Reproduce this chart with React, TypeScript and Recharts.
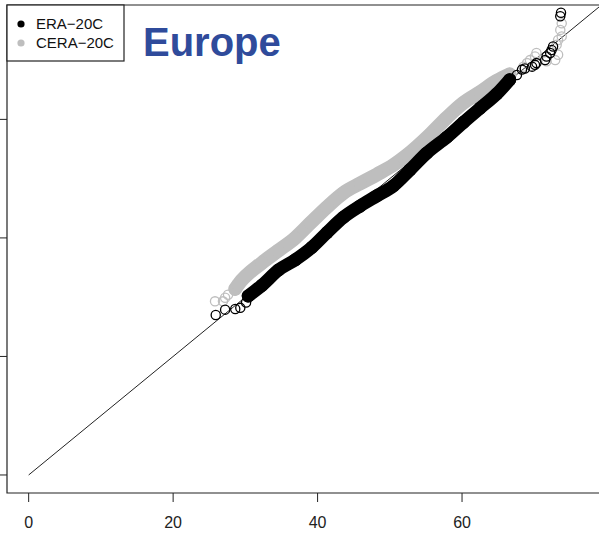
import React from 'react';
import { ScatterChart, Scatter, XAxis, YAxis, ReferenceArea, ReferenceLine } from 'recharts';

// quantile pairs: [x, y]
const eraLow = [[25.9, 27.0], [27.2, 27.9], [28.6, 28.0], [29.3, 28.2], [30.1, 29.1]];
const eraBody = [
  [30.4, 30.2], [32.3, 32.0], [34.6, 34.6], [36.9, 36.3], [39.2, 38.4], [41.3, 40.9],
  [43.6, 43.5], [45.9, 45.4], [48.2, 47.1], [50.5, 48.8], [52.8, 51.5], [55.1, 54.3],
  [57.9, 57.0], [60.2, 59.5], [62.5, 61.9], [64.8, 64.3], [66.6, 66.7],
];
const eraHigh = [
  [67.6, 67.5], [68.3, 68.4], [68.7, 68.6], [69.7, 68.9], [70.1, 69.2], [70.3, 69.5],
  [71.5, 70.0], [71.7, 70.6], [72.2, 71.2], [72.4, 71.7], [72.6, 72.3], [73.6, 77.4], [73.7, 78.0],
];

const ceraLow = [[25.8, 29.3], [26.9, 29.3], [27.2, 29.9], [27.6, 30.4]];
const ceraBody = [
  [28.6, 31.4], [29.0, 32.1], [32.3, 35.8], [34.5, 37.8], [36.9, 40.0], [39.0, 42.5],
  [41.3, 45.2], [43.6, 47.6], [45.9, 49.2], [48.2, 50.7], [50.5, 52.3], [52.4, 54.0],
  [55.6, 57.5], [57.9, 60.3], [60.2, 62.8], [62.5, 64.6], [64.8, 66.5], [66.6, 67.6],
];
const ceraHigh = [
  [68.5, 68.9], [69.0, 69.5], [69.4, 70.0], [70.1, 70.6], [70.3, 71.2], [71.7, 69.8],
  [72.9, 70.0], [73.3, 70.9], [73.1, 72.6], [73.3, 73.4], [73.8, 74.0], [73.6, 75.1], [73.8, 76.2],
];

const xTicks = [0, 20, 40, 60];
const yTicks = [0, 20, 40, 60];

const legendItems = [
  { name: 'ERA\u221220C', color: '#000000' },
  { name: 'CERA\u221220C', color: '#bebebe' },
];

const toPts = (arr: number[][]) => arr.map(([x, y]) => ({ x, y }));

const ring = (color: string) => (props: any) => (
  <circle cx={props.cx} cy={props.cy} r={4.6} fill="none" stroke={color} strokeWidth={1.3} />
);
const blob = (color: string) => (props: any) => (
  <circle cx={props.cx} cy={props.cy} r={6.5} fill={color} stroke="none" />
);

const font = '"Liberation Sans", Arial, Helvetica, sans-serif';

export default function App() {
  return (
    <div style={{ position: 'absolute', left: 0, top: 0, width: 599, height: 534, overflow: 'hidden', background: '#fff' }}>
      <ScatterChart width={620} height={534} margin={{ top: 5, right: 13.5, bottom: 0, left: 0 }}>
        <XAxis
          type="number"
          dataKey="x"
          domain={[-3, 80]}
          allowDataOverflow
          ticks={xTicks}
          interval={0}
          axisLine={false}
          tickLine={{ stroke: '#222' }}
          tickSize={9}
          tickMargin={15}
          height={41}
          tick={{ fill: '#222', fontSize: 16, fontFamily: font }}
        />
        <YAxis
          type="number"
          dataKey="y"
          domain={[-3.04, 79.3]}
          allowDataOverflow
          ticks={yTicks}
          interval={0}
          axisLine={false}
          tickLine={{ stroke: '#222' }}
          tickSize={7}
          width={7}
          tickFormatter={() => ''}
        />
        <Scatter data={toPts(ceraLow)} shape={ring('#bebebe')} isAnimationActive={false} />
        <Scatter
          data={toPts(ceraBody)}
          shape={blob('#bebebe')}
          line={{ stroke: '#bebebe', strokeWidth: 14, strokeLinecap: 'round', strokeLinejoin: 'round' }}
          lineJointType="monotoneX"
          isAnimationActive={false}
        />
        <Scatter data={toPts(ceraHigh)} shape={ring('#bebebe')} isAnimationActive={false} />
        <Scatter data={toPts(eraLow)} shape={ring('#000')} isAnimationActive={false} />
        <Scatter
          data={toPts(eraBody)}
          shape={blob('#000')}
          line={{ stroke: '#000', strokeWidth: 13, strokeLinecap: 'round', strokeLinejoin: 'round' }}
          lineJointType="monotoneX"
          isAnimationActive={false}
        />
        <Scatter data={toPts(eraHigh)} shape={ring('#000')} isAnimationActive={false} />
        <ReferenceLine
          segment={[{ x: 0, y: 0 }, { x: 79.3, y: 79.3 }]}
          stroke="#222"
          strokeWidth={1}
          ifOverflow="visible"
        />
        <ReferenceArea x1={-3} x2={80} y1={-3.04} y2={79.3} fill="none" stroke="#222" strokeWidth={1.2} ifOverflow="visible" />
      </ScatterChart>
      <svg width={599} height={70} style={{ position: 'absolute', left: 0, top: 0 }}>
        <rect x={7} y={5} width={117} height={56} fill="#fff" stroke="#222" strokeWidth={1.2} />
        {legendItems.map((it, i) => (
          <g key={it.name}>
            <circle cx={21} cy={24 + i * 19} r={3.6} fill={it.color} />
            <text x={36} y={29 + i * 19} fontSize={15} fontFamily={font} fill="#111">
              {it.name}
            </text>
          </g>
        ))}
        <text x={143} y={56} fontSize={40} fontWeight="bold" fontFamily={font} fill="#2f4b9b">
          Europe
        </text>
      </svg>
    </div>
  );
}
